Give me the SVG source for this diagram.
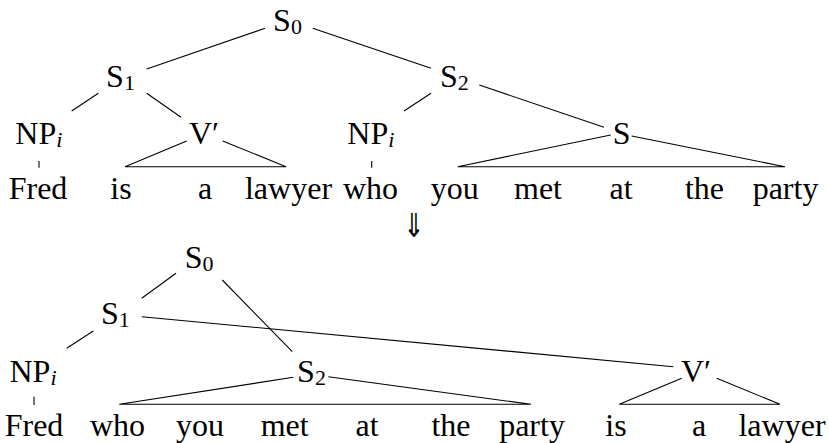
<svg xmlns="http://www.w3.org/2000/svg" width="829" height="443" viewBox="0 0 829 443">
  <style>
    text { font-size: 32px; fill: #000; }
    .lbl { text-anchor: middle; }
    .sub { font-size: 22px; }
    .it { font-style: italic; }
    .edge { stroke: #000; stroke-width: 1.1; fill: none; stroke-linejoin: miter; }
    .arrow { font-size: 33px; text-anchor: middle; }
  </style>
  <rect width="829" height="443" fill="#fff"/>

  <!-- connectors of both trees -->
  <g id="connectors">
    <!-- upper tree -->
    <path class="edge" d="M265,28.3 L146.7,69"/>
    <path class="edge" d="M312.7,28.3 L431,68.3"/>
    <path class="edge" d="M98.3,93.3 L71.7,111"/>
    <path class="edge" d="M146.7,93.3 L181,117.3"/>
    <path class="edge" d="M431,93.3 L404,111"/>
    <path class="edge" d="M479.3,85 L604,127.3"/>
    <path class="edge" d="M186.7,141 L125,166.7 L286,166.7 L222.7,141"/>
    <path class="edge" d="M610.7,135 L457.7,166.7 L785,166.7 L631.7,136"/>
    <path class="edge" d="M39,161 V167.7"/>
    <path class="edge" d="M371.7,161 V167.7"/>
    <!-- lower tree -->
    <path class="edge" d="M176,273.3 L141.7,298.3"/>
    <path class="edge" d="M222.3,280 L292.3,351.7"/>
    <path class="edge" d="M141.7,316.7 L673.3,366.7"/>
    <path class="edge" d="M93.3,331 L66.7,348.3"/>
    <path class="edge" d="M34,396.7 V405"/>
    <path class="edge" d="M293.3,377.3 L119.3,404.3 L531,404.3 L328.3,376.7"/>
    <path class="edge" d="M681.7,378.3 L619.3,404.3 L780,404.3 L716.7,378.3"/>
  </g>

  <g font-family="'Liberation Serif', 'DejaVu Serif', serif">
    <!-- upper tree nodes -->
    <g id="a-S0"><text class="lbl" x="287.5" y="31">S<tspan class="sub" dy="3">0</tspan></text></g>
    <g id="a-S1"><text class="lbl" x="120.5" y="87">S<tspan class="sub" dy="3">1</tspan></text></g>
    <g id="a-S2"><text class="lbl" x="454.3" y="87">S<tspan class="sub" dy="3">2</tspan></text></g>
    <g id="a-NP1"><text class="lbl" x="38.8" y="144">NP<tspan class="sub it" dy="3">i</tspan></text></g>
    <g id="a-Vbar"><text class="lbl" x="204" y="144">V′</text></g>
    <g id="a-NP2"><text class="lbl" x="370.8" y="144">NP<tspan class="sub it" dy="3">i</tspan></text></g>
    <g id="a-S"><text class="lbl" x="621.7" y="144">S</text></g>

    <!-- upper sentence -->
    <g id="a-words">
      <text class="lbl" x="38" y="199">Fred</text>
      <text class="lbl" x="121" y="199">is</text>
      <text class="lbl" x="205" y="199">a</text>
      <text class="lbl" x="288.5" y="199">lawyer</text>
      <text class="lbl" x="370.5" y="199">who</text>
      <text class="lbl" x="454.7" y="199">you</text>
      <text class="lbl" x="538" y="199">met</text>
      <text class="lbl" x="621" y="199">at</text>
      <text class="lbl" x="704.5" y="199">the</text>
      <text class="lbl" x="785.5" y="199">party</text>
    </g>

    <!-- lower tree nodes -->
    <g id="b-S0"><text class="lbl" x="199.2" y="268">S<tspan class="sub" dy="3">0</tspan></text></g>
    <g id="b-S1"><text class="lbl" x="115.3" y="324">S<tspan class="sub" dy="3">1</tspan></text></g>
    <g id="b-NP"><text class="lbl" x="33" y="382">NP<tspan class="sub it" dy="3">i</tspan></text></g>
    <g id="b-S2"><text class="lbl" x="311.5" y="382">S<tspan class="sub" dy="3">2</tspan></text></g>
    <g id="b-Vbar"><text class="lbl" x="696" y="382">V′</text></g>

    <!-- lower sentence -->
    <g id="b-words">
      <text class="lbl" x="34" y="436">Fred</text>
      <text class="lbl" x="117.5" y="436">who</text>
      <text class="lbl" x="200" y="436">you</text>
      <text class="lbl" x="284.7" y="436">met</text>
      <text class="lbl" x="367" y="436">at</text>
      <text class="lbl" x="451" y="436">the</text>
      <text class="lbl" x="532" y="436">party</text>
      <text class="lbl" x="616" y="436">is</text>
      <text class="lbl" x="699" y="436">a</text>
      <text class="lbl" x="782" y="436">lawyer</text>
    </g>
  </g>

  <!-- derivation arrow, narrowed horizontally -->
  <g id="derives" font-family="'DejaVu Sans', sans-serif">
    <text class="arrow" transform="translate(414,237) scale(0.78,1)">⇓</text>
  </g>
</svg>
